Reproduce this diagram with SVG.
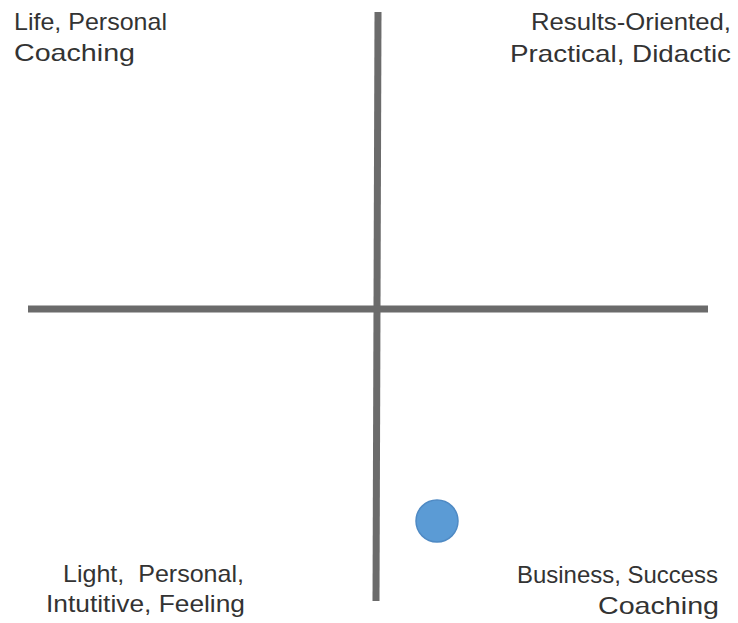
<svg xmlns="http://www.w3.org/2000/svg" width="738" height="623" viewBox="0 0 738 623">
  <style>
    .axis { stroke: #6b6b6b; stroke-width: 7; fill: none; }
    .lbl { font-family: "Liberation Sans", Arial, sans-serif; font-size: 24px; fill: #333333; }
    .dot { fill: #5b9bd5; stroke: #4f8ac4; stroke-width: 1.5; }
  </style>
  <rect width="738" height="623" fill="#ffffff"/>

  <!-- axes -->
  <g id="connectors">
    <line class="axis" x1="378" y1="12" x2="376" y2="601"/>
    <line class="axis" x1="28" y1="309" x2="708" y2="309"/>
  </g>

  <!-- quadrant labels (stretched to the wide geometric face widths) -->
  <g id="top-left">
    <text class="lbl" x="14" y="30" textLength="153" lengthAdjust="spacingAndGlyphs">Life, Personal</text>
    <text class="lbl" x="14" y="61" textLength="121" lengthAdjust="spacingAndGlyphs">Coaching</text>
  </g>
  <g id="top-right">
    <text class="lbl" x="531" y="30" textLength="200" lengthAdjust="spacingAndGlyphs">Results-Oriented,</text>
    <text class="lbl" x="510" y="62" textLength="221" lengthAdjust="spacingAndGlyphs">Practical, Didactic</text>
  </g>
  <g id="bottom-left">
    <text class="lbl" x="63" y="582" textLength="181" lengthAdjust="spacingAndGlyphs" xml:space="preserve">Light,  Personal,</text>
    <text class="lbl" x="46" y="612" textLength="199" lengthAdjust="spacingAndGlyphs">Intutitive, Feeling</text>
  </g>
  <g id="bottom-right">
    <text class="lbl" x="517" y="583" textLength="201" lengthAdjust="spacingAndGlyphs">Business, Success</text>
    <text class="lbl" x="598" y="614" textLength="121" lengthAdjust="spacingAndGlyphs">Coaching</text>
  </g>

  <!-- plotted position -->
  <g id="marker">
    <circle class="dot" cx="437" cy="521" r="21"/>
  </g>
</svg>
